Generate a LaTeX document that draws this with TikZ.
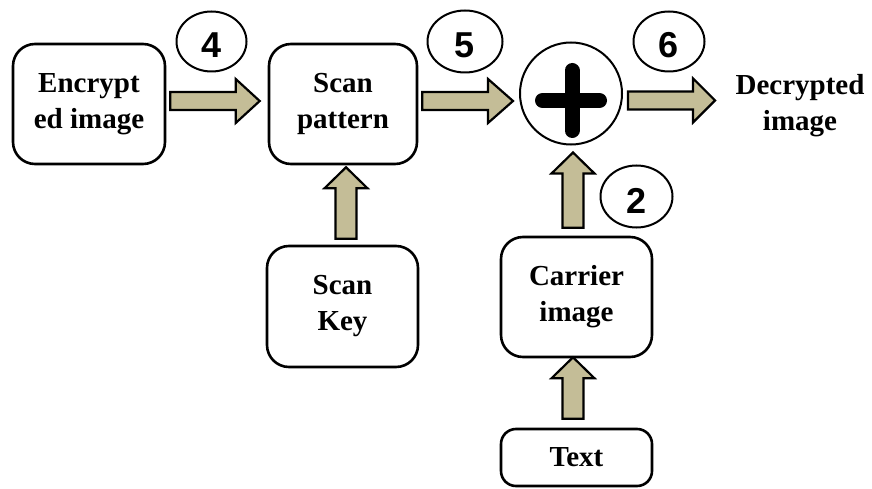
\documentclass[tikz,border=0pt]{standalone}
\usepackage{fontspec}
\setmainfont{Liberation Serif}
\newfontfamily\numfont{Liberation Sans}
\usetikzlibrary{calc,shapes.geometric}
\definecolor{tan}{HTML}{C4BD97}
\newcommand\harrow[3]{\draw[blk] let \p1=#1, \p2=#2 in (\x1,\y1-9pt) -- (\x2-#3,\y1-9pt) -- (\x2-#3,\y1-22pt) -- (\x2,\y1) -- (\x2-#3,\y1+22pt) -- (\x2-#3,\y1+9pt) -- (\x1,\y1+9pt) -- cycle;}
\newcommand\varrow[3]{\draw[blk] let \p1=#1, \p2=#2 in (\x1-10.5pt,\y1) -- (\x1-10.5pt,\y2-#3) -- (\x1-21.5pt,\y2-#3) -- (\x1,\y2) -- (\x1+21.5pt,\y2-#3) -- (\x1+10.5pt,\y2-#3) -- (\x1+10.5pt,\y1) -- cycle;}
\tikzset{
  box/.style={draw, line width=2.6pt, rounded corners=22pt, align=center, font=\fontsize{29}{36}\selectfont\bfseries, inner sep=0pt},
  num/.style={draw, ellipse, line width=2pt, inner sep=0pt, text height=33pt, font=\numfont\fontsize{36}{36}\selectfont\bfseries},
  blk/.style={draw, fill=tan, line width=2.2pt, line join=miter},
}
\begin{document}
\begin{tikzpicture}[x=1pt,y=-1pt]
\useasboundingbox (0,0) rectangle (872,489);
\node[box, minimum width=152pt, minimum height=120pt] (enc) at (89,104) {Encrypt\\ed image};
\node[box, minimum width=148pt, minimum height=120pt] (scan) at (343,104) {Scan\\pattern};
\node[box, minimum width=151pt, minimum height=121pt] (key) at (342.5,306.5) {Scan\\Key};
\node[box, minimum width=151pt, minimum height=120pt] (carrier) at (576.5,297) {Carrier\\image};
\node[box, rounded corners=15pt, minimum width=151pt, minimum height=57pt] (text) at (576.5,457.5) {Text};
\node[draw, circle, line width=2pt, minimum size=102pt, inner sep=0pt] (plus) at (571,93.5) {};
\draw[line width=15pt, line cap=round] ($(plus.center)+(-28.5,7)$) -- ($(plus.center)+(28.5,7)$);
\draw[line width=15pt, line cap=round] ($(plus.center)+(1,-23)$) -- ($(plus.center)+(1,37)$);
\node[align=center, font=\fontsize{29}{36}\selectfont\bfseries] (dec) at (800,106) {Decrypted\\image};
\node[num, minimum width=70pt, minimum height=60pt] (c4) at (211.5,41.5) {4};
\node[num, minimum width=75pt, minimum height=62pt] (c5) at (465,41.5) {5};
\node[num, minimum width=71pt, minimum height=60pt] (c6) at (669,41.5) {6};
\node[num, minimum width=72pt, minimum height=62pt] (c2) at (636.5,196.5) {2};
\harrow{($(enc.east)+(4,-3)$)}{($(scan.west)+(-8,-3)$)}{24pt}
\harrow{($(scan.east)+(4,-3)$)}{($(plus.west)+(-6,7)$)}{25pt}
\harrow{($(plus.east)+(5,7)$)}{($(dec.west)+(-17,0)$)}{22pt}
\varrow{($(key.north)+(3.5,-6)$)}{($(scan.south)+(3.5,2)$)}{21pt}
\varrow{($(carrier.north)+(-3.5,-8)$)}{($(plus.south)+(2,7)$)}{21pt}
\varrow{($(text.north)+(-3.5,-9)$)}{($(carrier.south)+(-3.5,-1)$)}{21pt}
\end{tikzpicture}
\end{document}
